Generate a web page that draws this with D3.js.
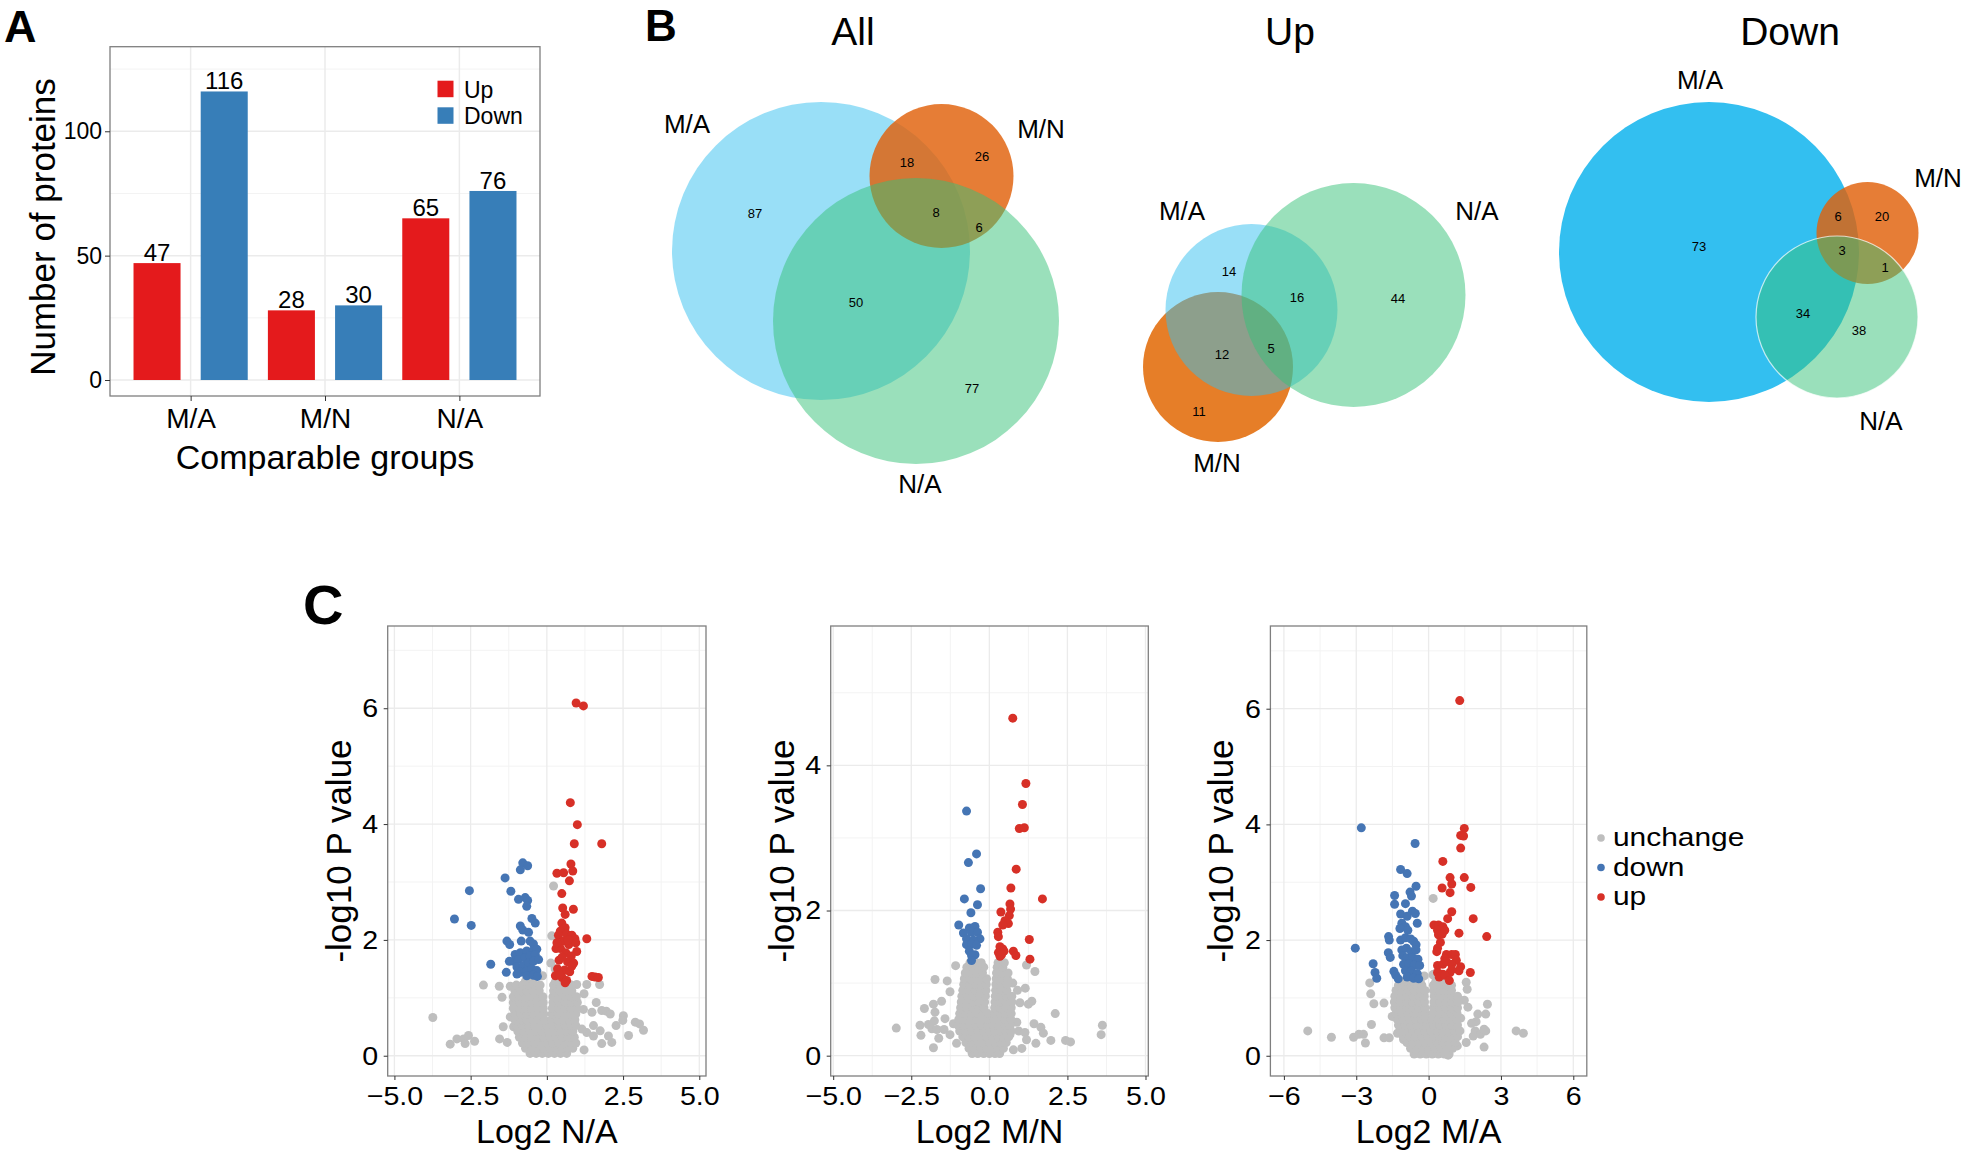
<!DOCTYPE html>
<html><head><meta charset="utf-8">
<script src="https://cdn.jsdelivr.net/npm/d3@7"></script>
<style>body{margin:0;background:#fff}svg{display:block;font-family:"Liberation Sans",Arial,Helvetica,sans-serif}</style>
</head><body><svg id="c" width="1961" height="1156"></svg>
<script>
// ================= DATA =================
// Panel A
const barGroups = ["M/A", "M/N", "N/A"];
const barSeries = ["Up", "Down"];
const upCounts = [47, 28, 65];
const downCounts = [116, 30, 76];
const barYTicks = [0, 50, 100];
const barYMinor = [25, 75, 125];

// Panel B  region counts: [MA only, MN only, NA only, MA∩MN, MA∩NA, MN∩NA, MA∩MN∩NA]
const vennTitles = ["All", "Up", "Down"];
const vennSetNames = ["M/A", "M/N", "N/A"];
const vennAll = [87, 26, 77, 18, 50, 6, 8];
const vennUp = [14, 11, 44, 12, 16, null, 5];
const vennDown = [73, 20, 38, 6, 34, 1, 3];

// Panel C
const volcanoTitles = ["Log2 N/A", "Log2 M/N", "Log2 M/A"];
const volcanoClasses = ["unchange", "down", "up"];
const naXTicks = [-5, -2.5, 0, 2.5, 5];
const mnXTicks = [-5, -2.5, 0, 2.5, 5];
const maXTicks = [-6, -3, 0, 3, 6];
const naYTicks = [0, 2, 4, 6];
const mnYTicks = [0, 2, 4];
const maYTicks = [0, 2, 4, 6];

const naUp = [[0.96,6.09],[1.20,6.04],[0.77,4.37],[1.00,3.99],[0.90,3.66],[1.80,3.66],[0.79,3.31],[0.33,3.15],[0.55,3.16],[0.85,3.19],[0.74,3.02],[0.49,2.80],[0.87,2.53],[0.52,2.55],[0.60,2.44],[0.49,2.29],[0.60,2.21],[0.44,2.15],[0.38,2.08],[0.65,2.10],[0.82,2.08],[0.92,2.02],[1.31,2.02],[0.55,1.98],[0.72,1.92],[0.45,1.85],[0.98,1.80],[0.30,1.85],[0.62,1.78],[0.80,1.72],[0.40,1.65],[0.68,1.62],[0.88,1.60],[0.35,1.50],[0.58,1.48],[0.75,1.45],[0.28,1.38],[0.50,1.35],[0.65,1.30],[0.82,1.55],[1.48,1.37],[1.58,1.36],[1.69,1.35],[0.42,1.40],[0.95,1.95],[0.70,2.00],[0.50,1.70],[0.33,1.95],[0.60,1.26]];
const naDown = [[-0.79,3.33],[-0.63,3.28],[-0.87,3.21],[-1.37,3.07],[-2.54,2.85],[-1.18,2.84],[-0.93,2.70],[-0.71,2.73],[-0.63,2.68],[-0.66,2.58],[-3.03,2.36],[-2.48,2.25],[-0.49,2.37],[-0.38,2.29],[-0.87,2.24],[-0.79,2.17],[-0.60,2.13],[-1.31,1.98],[-1.22,1.92],[-0.84,1.98],[-0.55,1.98],[-0.44,1.93],[-1.04,1.75],[-0.87,1.78],[-0.66,1.81],[-0.44,1.82],[-0.33,1.84],[-1.09,1.63],[-0.93,1.66],[-0.71,1.69],[-0.55,1.72],[-0.38,1.75],[-0.98,1.53],[-0.77,1.56],[-0.60,1.60],[-0.44,1.63],[-0.27,1.66],[-0.87,1.44],[-0.66,1.47],[-0.49,1.50],[-0.33,1.47],[-0.66,1.38],[-0.44,1.39],[-0.31,1.37],[-1.84,1.58],[-1.23,1.63],[-1.33,1.44],[-0.98,1.41]];
const naGray = [[-3.74,0.66],[-3.17,0.20],[-2.95,0.29],[-2.73,0.29],[-2.57,0.35],[-2.68,0.21],[-2.37,0.25],[-2.08,1.22],[-1.56,1.20],[-1.47,1.01],[-1.55,0.29],[-1.30,0.23],[-1.43,0.50],[-1.20,1.20],[-1.20,0.67],[-1.09,0.50],
 [0.98,1.23],[1.31,1.23],[1.73,1.23],[1.22,1.07],[1.62,0.92],[1.20,0.80],[1.48,0.75],[1.80,0.78],[1.95,0.77],[2.08,0.72],[2.51,0.69],[2.49,0.61],[2.27,0.52],[2.13,0.23],[2.68,0.35],[3.04,0.55],[3.17,0.44],[1.22,0.10],[1.53,0.52],[1.75,0.43],[1.31,0.40],[1.15,0.46],[1.80,0.21],[2.02,0.34],[1.53,0.34],[2.90,0.58],
 [0.22,2.93],[0.16,2.07],[0.13,1.60],[0.27,1.50],[-0.14,1.38],[0.27,1.26]];
// dense centre of the cloud, row by row: [y, [x values]]
const naCloud = [
 [0.04, [-0.55,-0.35,-0.15,0.05,0.25,0.45,0.65]],
 [0.13, [-0.7,-0.5,-0.3,-0.1,0.1,0.3,0.5,0.7,0.85]],
 [0.22, [-0.8,-0.6,-0.4,-0.2,0.0,0.2,0.4,0.6,0.8,0.95]],
 [0.32, [-0.9,-0.7,-0.5,-0.3,-0.1,0.1,0.3,0.5,0.7,0.9]],
 [0.42, [-0.95,-0.75,-0.55,-0.35,-0.15,0.05,0.25,0.45,0.65,0.85]],
 [0.52, [-1.0,-0.8,-0.6,-0.4,-0.2,0.0,0.2,0.4,0.6,0.8,0.95]],
 [0.62, [-1.05,-0.85,-0.65,-0.45,-0.25,-0.08,0.15,0.35,0.55,0.75,0.92]],
 [0.72, [-1.05,-0.85,-0.65,-0.45,-0.25,-0.1,0.17,0.37,0.57,0.77,0.95]],
 [0.82, [-1.1,-0.9,-0.7,-0.5,-0.3,-0.12,0.18,0.38,0.58,0.78,0.98]],
 [0.92, [-1.1,-0.9,-0.7,-0.5,-0.3,-0.12,0.2,0.4,0.6,0.8,1.0]],
 [1.02, [-1.1,-0.9,-0.7,-0.5,-0.3,-0.13,0.2,0.4,0.6,0.8,0.97]],
 [1.12, [-1.05,-0.85,-0.65,-0.45,-0.25,0.22,0.42,0.62,0.82]],
 [1.22, [-1.0,-0.8,-0.6,-0.4,-0.22,0.22,0.42,0.62,0.8]],
 [1.29, [-0.7,-0.45,0.3,0.55]]
];

const mnUp = [[0.75,4.65],[1.17,3.75],[1.06,3.46],[0.96,3.13],[1.12,3.14],[0.86,2.57],[0.69,2.31],[1.70,2.16],[0.66,2.09],[0.68,2.02],[0.37,1.98],[0.64,1.93],[0.50,1.86],[0.61,1.82],[0.43,1.80],[0.27,1.70],[0.29,1.64],[1.28,1.60],[0.34,1.50],[0.43,1.47],[0.29,1.42],[0.47,1.44],[0.77,1.44],[0.85,1.38],[0.34,1.37],[0.39,1.39],[1.30,1.33]];
const mnDown = [[-0.73,3.37],[-0.41,2.78],[-0.67,2.66],[-0.28,2.30],[-0.80,2.16],[-0.38,2.08],[-0.59,1.97],[-0.98,1.80],[-0.64,1.76],[-0.46,1.78],[-0.83,1.69],[-0.57,1.70],[-0.38,1.70],[-0.73,1.61],[-0.30,1.61],[-0.51,1.59],[-0.73,1.53],[-0.57,1.54],[-0.41,1.52],[-0.64,1.44],[-0.46,1.39],[-0.57,1.38],[-0.57,1.31]];
const mnGray = [[-2.98,0.38],[-2.22,0.42],[-2.19,0.28],[-2.08,0.65],[-1.79,0.71],[-1.74,0.60],[-1.76,0.48],[-1.84,0.37],[-1.79,0.11],[-1.95,0.43],[-1.62,0.24],[-1.68,0.36],[-1.42,0.51],[-1.35,1.03],[-1.45,0.36],[-1.74,1.05],[-1.53,0.75],[-1.26,0.88],[-1.08,1.24],[-1.15,0.44],[-1.26,0.29],[-1.05,0.17],
 [1.19,1.25],[1.46,1.16],[1.36,0.75],[1.25,0.71],[0.98,0.73],[0.88,0.46],[0.94,0.34],[1.14,0.32],[1.19,0.22],[1.49,0.17],[1.43,0.44],[1.65,0.39],[1.73,0.31],[1.97,0.21],[2.11,0.58],[2.44,0.21],[2.60,0.19],[3.62,0.42],[3.58,0.29],[1.04,0.10],[0.77,0.08],[0.66,0.29],[0.75,1.0],[0.90,0.90],[1.15,0.93]];
const mnCloud = [
 [0.03, [-0.55,-0.37,-0.18,0.0,0.18,0.33]],
 [0.10, [-0.65,-0.46,-0.27,-0.08,0.1,0.28,0.45]],
 [0.18, [-0.75,-0.56,-0.37,-0.18,0.0,0.18,0.36,0.54]],
 [0.26, [-0.85,-0.66,-0.47,-0.28,-0.09,0.1,0.28,0.46,0.62]],
 [0.34, [-0.95,-0.76,-0.57,-0.38,-0.19,0.0,0.18,0.36,0.54,0.7]],
 [0.42, [-1.0,-0.81,-0.62,-0.43,-0.24,-0.06,0.13,0.31,0.49,0.67]],
 [0.50, [-0.98,-0.79,-0.6,-0.41,-0.22,-0.05,0.15,0.33,0.51,0.69]],
 [0.58, [-0.95,-0.76,-0.57,-0.38,-0.2,-0.05,0.16,0.34,0.52,0.7]],
 [0.66, [-0.92,-0.73,-0.54,-0.35,-0.17,0.17,0.35,0.53,0.7]],
 [0.74, [-0.9,-0.71,-0.52,-0.33,-0.15,0.18,0.36,0.54,0.72]],
 [0.82, [-0.88,-0.69,-0.5,-0.31,-0.13,0.19,0.37,0.55,0.72]],
 [0.90, [-0.85,-0.66,-0.47,-0.28,-0.11,0.2,0.38,0.56]],
 [0.98, [-0.82,-0.63,-0.44,-0.25,-0.1,0.21,0.39,0.57]],
 [1.06, [-0.8,-0.61,-0.42,-0.24,-0.09,0.22,0.4,0.58]],
 [1.14, [-0.77,-0.58,-0.4,-0.22,0.23,0.41,0.6]],
 [1.22, [-0.72,-0.53,-0.35,-0.18,0.25,0.43]],
 [1.28, [-0.62,-0.42,-0.26,0.28,0.48]]
];

const maUp = [[1.29,6.14],[1.48,3.93],[1.33,3.81],[1.45,3.80],[1.33,3.59],[0.59,3.36],[1.48,3.08],[0.89,3.08],[0.96,2.97],[0.56,2.90],[0.89,2.82],[1.75,2.91],[0.96,2.49],[0.79,2.37],[1.85,2.37],[0.22,2.26],[0.41,2.26],[0.59,2.23],[0.37,2.17],[0.67,2.17],[1.26,2.12],[2.41,2.06],[0.41,2.09],[0.56,2.10],[0.49,1.96],[0.37,1.86],[0.34,1.80],[0.74,1.75],[0.96,1.75],[1.11,1.75],[0.67,1.68],[1.15,1.65],[0.37,1.56],[0.59,1.58],[0.74,1.63],[0.96,1.58],[1.33,1.54],[1.26,1.47],[1.73,1.44],[0.37,1.44],[0.59,1.41],[0.89,1.44],[0.96,1.49],[0.44,1.36],[0.67,1.39],[0.86,1.30]];
const maDown = [[-2.79,3.94],[-0.56,3.67],[-1.16,3.22],[-0.89,3.15],[-0.52,2.93],[-0.77,2.83],[-0.71,2.76],[-1.41,2.77],[-1.41,2.62],[-0.96,2.63],[-0.67,2.50],[-0.55,2.46],[-1.16,2.45],[-0.89,2.41],[-0.47,2.29],[-1.11,2.29],[-0.96,2.23],[-1.19,2.20],[-0.86,2.17],[-1.66,2.06],[-1.63,2.00],[-3.04,1.86],[-1.16,2.00],[-0.96,2.04],[-0.74,2.02],[-0.62,1.98],[-0.52,1.92],[-1.67,1.78],[-1.59,1.70],[-1.11,1.83],[-0.92,1.86],[-0.71,1.80],[-0.52,1.83],[-1.07,1.73],[-0.89,1.69],[-0.67,1.70],[-0.44,1.67],[-2.30,1.59],[-1.04,1.58],[-0.81,1.59],[-0.59,1.57],[-0.37,1.56],[-2.22,1.44],[-2.15,1.34],[-1.44,1.46],[-1.36,1.39],[-0.96,1.47],[-0.71,1.46],[-0.47,1.42],[-1.26,1.33],[-0.89,1.36],[-0.62,1.34],[-0.41,1.33]];
const maGray = [[-5.01,0.43],[-4.03,0.32],[-3.11,0.32],[-2.89,0.37],[-2.70,0.37],[-2.62,0.22],[-2.37,0.54],[-2.44,1.26],[-2.40,1.07],[-2.27,0.90],[-1.85,0.91],[-1.85,0.31],[-1.63,0.31],[-1.51,0.68],[-1.29,0.39],[-1.04,0.28],[0.19,2.72],[0.22,1.41],[-0.18,1.38],[0.18,1.40],
 [1.56,1.27],[1.60,1.15],[1.63,0.84],[2.04,0.72],[2.37,0.72],[2.44,0.89],[1.97,0.59],[1.78,0.56],[1.93,0.43],[2.15,0.37],[2.30,0.46],[2.37,0.43],[2.30,0.15],[1.56,0.23],[1.19,0.17],[0.81,0.01],[3.63,0.43],[3.93,0.39],[1.48,0.96],[1.33,0.65],[1.85,0.34]];
const maCloud = [
 [0.03, [-0.6,-0.35,-0.1,0.15,0.4,0.65,0.85]],
 [0.13, [-0.75,-0.5,-0.25,0.0,0.25,0.5,0.75,1.0]],
 [0.23, [-0.9,-0.65,-0.4,-0.15,0.1,0.35,0.6,0.85,1.1]],
 [0.33, [-1.05,-0.8,-0.55,-0.3,-0.05,0.2,0.45,0.7,0.95,1.2]],
 [0.43, [-1.15,-0.9,-0.65,-0.4,-0.15,0.08,0.33,0.58,0.83,1.08,1.3]],
 [0.53, [-1.25,-1.0,-0.75,-0.5,-0.25,-0.05,0.2,0.45,0.7,0.95,1.2]],
 [0.63, [-1.3,-1.05,-0.8,-0.55,-0.3,-0.1,0.15,0.4,0.65,0.9,1.15]],
 [0.73, [-1.35,-1.1,-0.85,-0.6,-0.35,-0.12,0.18,0.43,0.68,0.93,1.18]],
 [0.83, [-1.4,-1.15,-0.9,-0.65,-0.4,-0.15,0.2,0.45,0.7,0.95,1.2]],
 [0.93, [-1.42,-1.17,-0.92,-0.67,-0.42,-0.17,0.22,0.47,0.72,0.97,1.22]],
 [1.03, [-1.4,-1.15,-0.9,-0.65,-0.4,-0.18,0.23,0.48,0.73,0.98,1.2]],
 [1.13, [-1.35,-1.1,-0.85,-0.6,-0.35,-0.15,0.2,0.45,0.7,0.95]],
 [1.22, [-1.25,-1.0,-0.75,-0.5,-0.28,0.2,0.45,0.7,0.95]],
 [1.29, [-1.0,-0.65,-0.35,0.3,0.65]]
];

// ================= DRAW =================
const svg = d3.select("#c");
const C_UP = "#E41A1C", C_DOWN = "#377EB8";
const V_GRAY = "#BEBEBE", V_DOWN = "#4575B4", V_UP = "#D73027";
const GRID = "#EBEBEB", GRID_MINOR = "#F3F3F3", BORDER = "#7F7F7F";

function txt(g, x, y, s, o = {}) {
  let tr = `translate(${x},${y})`;
  if (o.rot) tr += ` rotate(${o.rot})`;
  if (o.sx) tr += ` scale(${o.sx},1)`;
  const t = g.append("text").attr("transform", tr)
    .attr("text-anchor", o.anchor || "middle")
    .attr("font-size", o.size || 20).attr("fill", o.fill || "#000").text(s);
  if (o.weight) t.attr("font-weight", o.weight);
  if (o.baseline) t.attr("dominant-baseline", o.baseline);
  return t;
}

// panel letters
txt(svg, 4, 42, "A", {anchor: "start", size: 45, weight: "bold"});
txt(svg, 645, 41, "B", {anchor: "start", size: 44, weight: "bold"});
txt(svg, 303, 624, "C", {anchor: "start", size: 56, weight: "bold"});

// ---------- Panel A ----------
(function () {
  const L = {left: 110, right: 540, top: 46.7, bottom: 396};
  const g = svg.append("g");
  const x = d3.scalePoint().domain(barGroups).range([L.left, L.right]).padding(0.6);
  const step = x.step();
  const inner = d3.scaleBand().domain(barSeries).range([-0.5 * step, 0.5 * step]).paddingInner(0.3).paddingOuter(0.15);
  const y = d3.scaleLinear().domain([-6.43, 134]).range([L.bottom, L.top]);

  g.selectAll("line.ymin").data(barYMinor).join("line").attr("class", "ymin")
    .attr("x1", L.left).attr("x2", L.right).attr("y1", d => y(d)).attr("y2", d => y(d))
    .attr("stroke", GRID_MINOR).attr("stroke-width", 1);
  g.selectAll("line.ymaj").data(barYTicks).join("line").attr("class", "ymaj")
    .attr("x1", L.left).attr("x2", L.right).attr("y1", d => y(d)).attr("y2", d => y(d))
    .attr("stroke", GRID).attr("stroke-width", 1.5);
  g.selectAll("line.xmaj").data(barGroups).join("line").attr("class", "xmaj")
    .attr("x1", d => x(d)).attr("x2", d => x(d)).attr("y1", L.top).attr("y2", L.bottom)
    .attr("stroke", GRID).attr("stroke-width", 1.5);

  const rows = [];
  barGroups.forEach((gname, i) => {
    rows.push({g: gname, s: "Up", v: upCounts[i]});
    rows.push({g: gname, s: "Down", v: downCounts[i]});
  });
  g.selectAll("rect.bar").data(rows).join("rect").attr("class", "bar")
    .attr("x", d => x(d.g) + inner(d.s)).attr("width", inner.bandwidth())
    .attr("y", d => y(d.v)).attr("height", d => y(0) - y(d.v))
    .attr("fill", d => d.s === "Up" ? C_UP : C_DOWN);
  g.selectAll("text.val").data(rows).join("text").attr("class", "val")
    .attr("x", d => x(d.g) + inner(d.s) + inner.bandwidth() / 2).attr("y", d => y(d.v) - 2)
    .attr("text-anchor", "middle").attr("font-size", 24).text(d => d.v);

  g.append("rect").attr("x", L.left).attr("y", L.top).attr("width", L.right - L.left).attr("height", L.bottom - L.top)
    .attr("fill", "none").attr("stroke", BORDER).attr("stroke-width", 1.3);

  const ay = g.append("g").attr("transform", `translate(${L.left},0)`)
    .call(d3.axisLeft(y).tickValues(barYTicks).tickSize(5).tickPadding(3));
  ay.select(".domain").remove();
  ay.selectAll("line").attr("stroke", "#333");
  ay.selectAll("text").attr("font-size", 23).attr("fill", "#000").attr("font-family", null);
  const ax = g.append("g").attr("transform", `translate(0,${L.bottom})`)
    .call(d3.axisBottom(x).tickSize(5));
  ax.select(".domain").remove();
  ax.selectAll("line").attr("stroke", "#333");
  ax.selectAll("text").attr("font-size", 28).attr("fill", "#000").attr("font-family", null).attr("dy", 0).attr("y", 32);

  txt(g, 325, 469, "Comparable groups", {size: 34});
  txt(g, 55, 227, "Number of proteins", {size: 35, rot: -90});

  // legend
  const leg = [{s: "Up", c: C_UP, y: 80.7}, {s: "Down", c: C_DOWN, y: 107.3}];
  leg.forEach(d => {
    g.append("rect").attr("x", 437.5).attr("y", d.y).attr("width", 16).attr("height", 16.5).attr("fill", d.c);
    txt(g, 464, d.y + 17, d.s, {anchor: "start", size: 23});
  });
})();

// ---------- Panel B (Venn) ----------
function venn(cfg, counts, title) {
  const g = svg.append("g");
  txt(g, cfg.title[0], cfg.title[1], title, {size: 39});
  const sets = {
    MA: {name: vennSetNames[0], fill: "#33BFF0"},
    MN: {name: vennSetNames[1], fill: "#E0600A"},
    NA: {name: vennSetNames[2], fill: "#35C177"}
  };
  cfg.order.forEach(k => {
    const c = cfg.circles[k];
    const el = g.append("circle").attr("cx", c[0]).attr("cy", c[1]).attr("r", c[2])
      .attr("fill", cfg.fills && cfg.fills[k] ? cfg.fills[k] : sets[k].fill).attr("fill-opacity", cfg.op[k]);
    if (cfg.stroke && cfg.stroke[k]) el.attr("stroke", "#fff").attr("stroke-width", 1.2).attr("stroke-opacity", 0.7);
  });
  ["MA", "MN", "NA"].forEach(k => {
    const p = cfg.labels[k];
    txt(g, p[0], p[1], sets[k].name, {size: 26});
  });
  counts.forEach((v, i) => {
    if (v === null) return;
    const p = cfg.nums[i];
    txt(g, p[0], p[1], v, {size: 13, baseline: "central"});
  });
}
venn({
  title: [853, 45],
  circles: {MA: [821, 251, 149], MN: [941.5, 176, 72], NA: [916, 321, 143]},
  order: ["MA", "MN", "NA"], op: {MA: 0.5, MN: 0.82, NA: 0.5},
  labels: {MA: [687, 133], MN: [1041, 138], NA: [920, 493]},
  nums: [[755, 213], [982, 156], [972, 388], [907, 162], [856, 302], [979, 227], [936, 212]]
}, vennAll, vennTitles[0]);
venn({
  title: [1290, 45],
  circles: {MA: [1251.5, 310, 86], MN: [1218, 367, 75], NA: [1353.5, 295, 112]},
  order: ["MN", "MA", "NA"], op: {MA: 0.5, MN: 1, NA: 0.5}, fills: {MN: "#E67E28"},
  labels: {MA: [1182, 220], MN: [1217, 472], NA: [1477, 220]},
  nums: [[1229, 271], [1199, 411], [1398, 298], [1222, 354], [1297, 297], null, [1271, 348]]
}, vennUp, vennTitles[1]);
venn({
  title: [1790, 45],
  circles: {MA: [1709, 252, 150], MN: [1867.5, 233, 51], NA: [1837, 317, 81]},
  order: ["MA", "MN", "NA"], op: {MA: 1, MN: 0.82, NA: 0.5}, stroke: {NA: true},
  labels: {MA: [1700, 89], MN: [1938, 187], NA: [1881, 430]},
  nums: [[1699, 246], [1882, 216], [1859, 330], [1838, 216], [1803, 313], [1885, 267], [1842, 250]]
}, vennDown, vennTitles[2]);

// ---------- Panel C (volcano) ----------
const SX_TICK = 1.1;
function volcano(cfg, gray, cloud, down, up, xTicks, yTicks, xTitle) {
  const g = svg.append("g");
  const x = d3.scaleLinear().domain(cfg.xd).range([cfg.left, cfg.right]);
  const y = d3.scaleLinear().domain(cfg.yd).range([cfg.bottom, cfg.top]);
  const ys = yTicks[1] - yTicks[0];
  const xMinor = xTicks.slice(0, -1).map((d, i) => (d + xTicks[i + 1]) / 2);
  const yMinor = yTicks.map(d => d + ys / 2).filter(d => d < cfg.yd[1]);

  g.selectAll("line.xmi").data(xMinor).join("line").attr("class", "xmi")
    .attr("x1", d => x(d)).attr("x2", d => x(d)).attr("y1", cfg.top).attr("y2", cfg.bottom)
    .attr("stroke", GRID_MINOR).attr("stroke-width", 1);
  g.selectAll("line.ymi").data(yMinor).join("line").attr("class", "ymi")
    .attr("x1", cfg.left).attr("x2", cfg.right).attr("y1", d => y(d)).attr("y2", d => y(d))
    .attr("stroke", GRID_MINOR).attr("stroke-width", 1);
  g.selectAll("line.xma").data(xTicks).join("line").attr("class", "xma")
    .attr("x1", d => x(d)).attr("x2", d => x(d)).attr("y1", cfg.top).attr("y2", cfg.bottom)
    .attr("stroke", GRID).attr("stroke-width", 1.3);
  g.selectAll("line.yma").data(yTicks).join("line").attr("class", "yma")
    .attr("x1", cfg.left).attr("x2", cfg.right).attr("y1", d => y(d)).attr("y2", d => y(d))
    .attr("stroke", GRID).attr("stroke-width", 1.3);

  const grayAll = gray.concat(cloud.flatMap(([yy, xs]) => xs.map(xx => [xx, yy])));
  const layers = [[grayAll, V_GRAY], [down, V_DOWN], [up, V_UP]];
  layers.forEach(([arr, col]) => {
    g.append("g").selectAll("circle").data(arr).join("circle")
      .attr("cx", d => x(d[0])).attr("cy", d => y(d[1])).attr("r", 4.5).attr("fill", col);
  });

  g.append("rect").attr("x", cfg.left).attr("y", cfg.top).attr("width", cfg.right - cfg.left).attr("height", cfg.bottom - cfg.top)
    .attr("fill", "none").attr("stroke", BORDER).attr("stroke-width", 1.3);

  const fmt = cfg.fmt ? d3.format(cfg.fmt) : d3.format("d");
  const ax = g.append("g").attr("transform", `translate(0,${cfg.bottom})`)
    .call(d3.axisBottom(x).tickValues(xTicks).tickFormat(fmt).tickSize(4));
  ax.select(".domain").remove();
  ax.selectAll("line").attr("stroke", "#333");
  ax.selectAll("text").attr("font-size", 26).attr("fill", "#000").attr("font-family", null)
    .attr("dy", 0).attr("y", 29).attr("transform", `scale(${SX_TICK},1)`);
  const ay = g.append("g").attr("transform", `translate(${cfg.left},0)`)
    .call(d3.axisLeft(y).tickValues(yTicks).tickFormat(d3.format("d")).tickSize(4));
  ay.select(".domain").remove();
  ay.selectAll("line").attr("stroke", "#333");
  ay.selectAll("text").attr("font-size", 26).attr("fill", "#000").attr("font-family", null)
    .attr("x", -9.5 / SX_TICK).attr("transform", `scale(${SX_TICK},1)`);

  txt(g, (cfg.left + cfg.right) / 2, 1143, xTitle, {size: 34});
  txt(g, cfg.left - 37, (cfg.top + cfg.bottom) / 2, "-log10 P value", {size: 35, rot: -90});
}
volcano({left: 387.7, right: 706, top: 626, bottom: 1076, xd: [-5.22, 5.22], yd: [-0.35, 7.42], fmt: ".1f"},
  naGray, naCloud, naDown, naUp, naXTicks, naYTicks, volcanoTitles[0]);
volcano({left: 830.7, right: 1148.3, top: 626, bottom: 1076, xd: [-5.08, 5.09], yd: [-0.28, 5.92], fmt: ".1f"},
  mnGray, mnCloud, mnDown, mnUp, mnXTicks, mnYTicks, volcanoTitles[1]);
volcano({left: 1270.4, right: 1586.8, top: 626, bottom: 1076, xd: [-6.56, 6.56], yd: [-0.35, 7.43]},
  maGray, maCloud, maDown, maUp, maXTicks, maYTicks, volcanoTitles[2]);

// volcano legend
(function () {
  const g = svg.append("g");
  const cols = [V_GRAY, V_DOWN, V_UP];
  const yl = d3.scalePoint().domain(volcanoClasses).range([838, 897]);
  volcanoClasses.forEach((c, i) => {
    g.append("circle").attr("cx", 1601).attr("cy", yl(c)).attr("r", 3.8).attr("fill", cols[i]);
    txt(g, 1613, yl(c) + 8, c, {anchor: "start", size: 26, sx: 1.15});
  });
})();
</script></body></html>
